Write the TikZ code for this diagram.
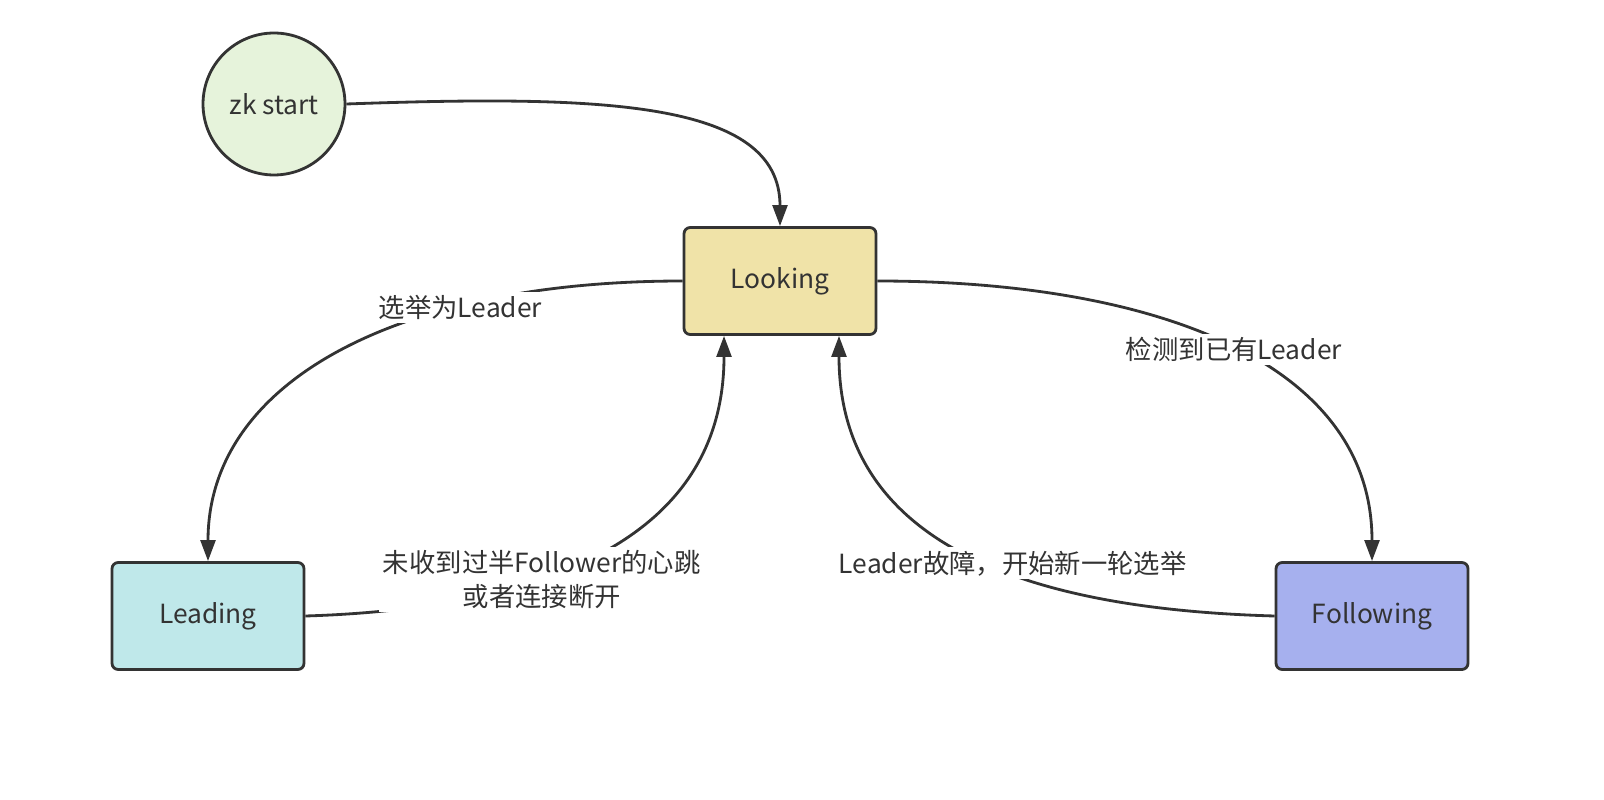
\documentclass[tikz,border=0pt]{standalone}
\usepackage{fontspec}
\setmainfont{Noto Sans CJK SC}
\usetikzlibrary{arrows.meta}
\definecolor{startgreen}{HTML}{E6F3DB}
\definecolor{lookyellow}{HTML}{F0E3A8}
\definecolor{leadcyan}{HTML}{BFE8EA}
\definecolor{followblue}{HTML}{A6B0EE}
\definecolor{inkgray}{HTML}{333333}

\begin{document}
\begin{tikzpicture}[x=0.02cm, y=-0.02cm, font=\fontsize{15}{19}\selectfont, text=inkgray,
    state/.style={draw=inkgray, line width=1.6pt, rounded corners=3.5pt,
                  minimum width=3.84cm, minimum height=2.14cm},
    trans/.style={draw=inkgray, line width=1.6pt, -{Triangle[length=12pt,width=8.5pt]}},
    cond/.style={fill=white, inner sep=2pt, align=center}]
        \useasboundingbox (0,0) rectangle (1604,800);
        \node[circle, draw=inkgray, line width=1.6pt, fill=startgreen, minimum size=2.84cm] (zk) at (274,104) {zk start};
        \node[state, fill=lookyellow] (looking) at (780,281) {Looking};
        \node[state, fill=leadcyan] (leading) at (208,616) {Leading};
        \node[state, fill=followblue] (following) at (1372,616) {Following};
        \draw[trans] (zk.east) .. controls (600,95) and (780,100) .. (looking.north);
        \draw[trans] (looking.west) .. controls (400,281) and (208,380)
              .. node[cond, pos=0.3, xshift=0.1cm] {选举为Leader} (leading.north);
        \draw[trans] (leading.east) .. controls (500,610) and (724,560)
              .. node[cond, pos=0.4, xshift=0.1cm] {未收到过半Follower的心跳\\或者连接断开} ([xshift=-1.12cm]looking.south);
        \draw[trans] (looking.east) .. controls (1150,281) and (1372,360)
              .. node[cond, pos=0.5, xshift=0.14cm, yshift=-0.08cm] {检测到已有Leader} (following.north);
        \draw[trans] (following.west) .. controls (1060,610) and (839,560)
              .. node[cond, pos=0.45, xshift=0.22cm, yshift=0.12cm] {Leader故障，开始新一轮选举} ([xshift=1.18cm]looking.south);
      \end{tikzpicture}
\end{document}
